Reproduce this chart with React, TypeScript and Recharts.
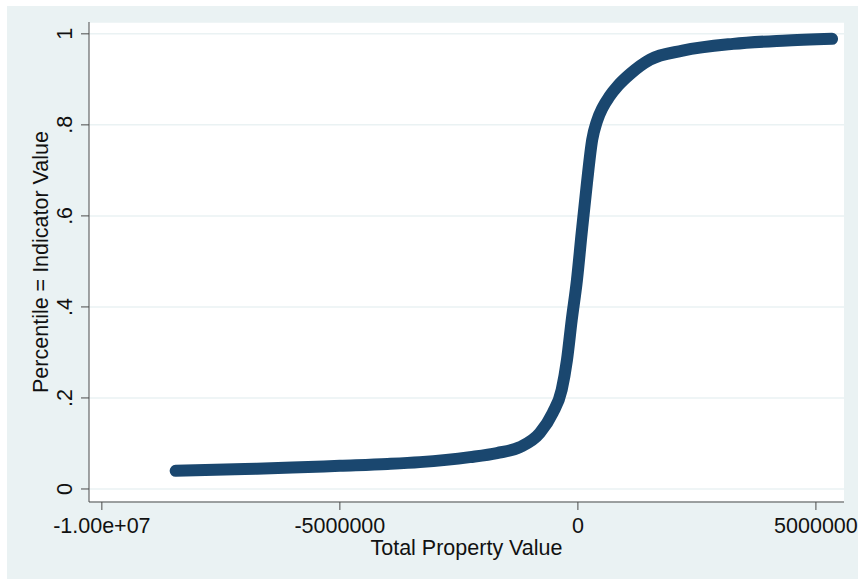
import * as React from "react";
import {
  LineChart,
  Line,
  XAxis,
  YAxis,
  CartesianGrid,
} from "recharts";

// property value (x) vs. percentile (y)
const propertyValue = [
  -8450000, -7000000, -6000000, -5000000, -4000000, -3320000, -2270000,
  -1700000, -1220000, -800000, -530000, -340000, -230000, -130000, -20000,
  80000, 190000, 300000, 400000, 520000, 660000, 850000, 1100000, 1510000,
  2200000, 3260000, 4300000, 5340000,
];
const percentile = [
  0.04, 0.044, 0.047, 0.051, 0.055, 0.059, 0.07, 0.079, 0.092, 0.123, 0.167,
  0.218, 0.283, 0.371, 0.459, 0.563, 0.672, 0.767, 0.808, 0.838, 0.862, 0.887,
  0.912, 0.943, 0.963, 0.978, 0.985, 0.989,
];

const xTicks = [-10000000, -5000000, 0, 5000000];
const xTickLabels = ["-1.00e+07", "-5000000", "0", "5000000"];
const yTicks = [0, 0.2, 0.4, 0.6, 0.8, 1];
const yTickLabels = ["0", ".2", ".4", ".6", ".8", "1"];

const chartData = propertyValue.map((v, i) => ({ x: v, y: percentile[i] }));

const FONT = "'Liberation Sans', Arial, sans-serif";
const AXIS = "#4a4a4a";
const FS = 21.5;

const YTick = (props: any) => {
  const { x, y, payload } = props;
  const i = yTicks.indexOf(payload.value);
  return (
    <text
      x={x}
      y={y}
      transform={`rotate(-90 ${x} ${y})`}
      textAnchor="middle"
      fontSize={FS}
      fontFamily={FONT}
      fill="#111"
    >
      {i >= 0 ? yTickLabels[i] : payload.value}
    </text>
  );
};

export default function App() {
  return (
    <div
      style={{
        position: "absolute",
        left: 7,
        top: 6,
        width: 851,
        height: 573,
        background: "#eaf2f3",
      }}
    >
      <LineChart
        width={851}
        height={573}
        data={chartData}
        margin={{ top: 16, right: 14, left: 0, bottom: 0 }}
      >
        <CartesianGrid
          vertical={false}
          stroke="#eaf2f3"
          strokeWidth={1.5}
          fill="#ffffff"
        />
        <XAxis
          type="number"
          dataKey="x"
          domain={[-10270000, 5590000]}
          allowDataOverflow
          ticks={xTicks}
          tickFormatter={(v: number) => xTickLabels[xTicks.indexOf(v)] ?? String(v)}
          height={77}
          tickSize={8}
          tickMargin={8}
          stroke={AXIS}
          tick={{ fontSize: FS, fontFamily: FONT, fill: "#111" }}
          interval={0}
          label={{
            value: "Total Property Value",
            position: "insideBottom",
            offset: 24,
            fontSize: FS,
            fontFamily: FONT,
            fill: "#111",
          }}
        />
        <YAxis
          type="number"
          dataKey="y"
          domain={[-0.0286, 1.026]}
          allowDataOverflow
          ticks={yTicks}
          width={82}
          tickSize={8}
          tickMargin={9}
          stroke={AXIS}
          tick={<YTick />}
          interval={0}
          label={{
            value: "Percentile = Indicator Value",
            angle: -90,
            position: "insideLeft",
            offset: 33,
            fontSize: FS,
            fontFamily: FONT,
            fill: "#111",
            style: { textAnchor: "middle" },
          }}
        />
        <Line
          type="monotone"
          dataKey="y"
          stroke="#1a476f"
          strokeWidth={12}
          strokeLinecap="round"
          strokeLinejoin="round"
          dot={false}
          isAnimationActive={false}
        />
      </LineChart>
    </div>
  );
}
